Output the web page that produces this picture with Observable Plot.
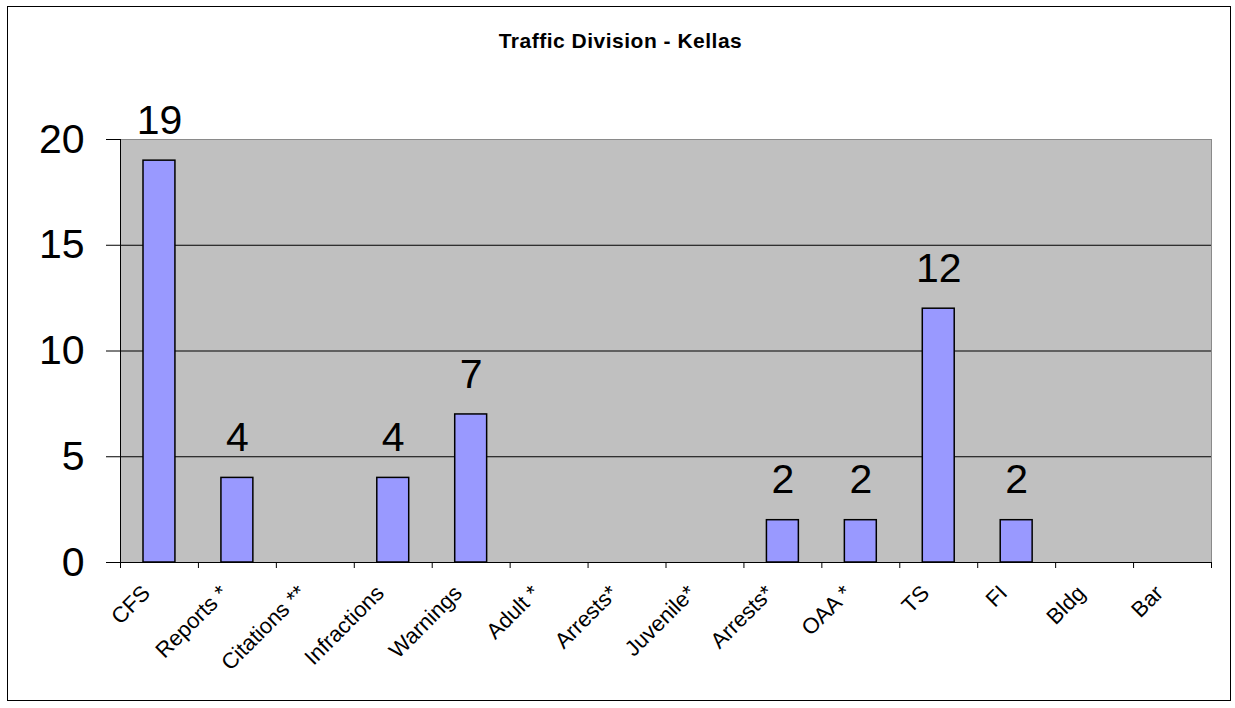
<!DOCTYPE html>
<html><head><meta charset="utf-8">
<script src="https://cdn.jsdelivr.net/npm/d3@7"></script>
<script src="https://cdn.jsdelivr.net/npm/@observablehq/plot@0.6"></script>
<style>
body{margin:0;background:#fff;font-family:"Liberation Sans",Arial,sans-serif;}
#wrap{position:relative;width:1235px;height:708px;}
#border{position:absolute;left:7px;top:6px;width:1224px;height:695px;border:1px solid #000;box-sizing:border-box;pointer-events:none;}
#title{position:absolute;left:0;width:1241px;top:30px;line-height:21px;text-align:center;font-weight:bold;font-size:21px;letter-spacing:0.5px;color:#000;}
#chart{position:absolute;left:0;top:0;}
</style></head>
<body>
<div id="wrap">
  <div id="chart"></div>
  <div id="title">Traffic Division - Kellas</div>
  <div id="border"></div>
</div>
<script>
const categories = ["CFS","Reports *","Citations **","Infractions","Warnings","Adult *","Arrests*","Juvenile*","Arrests*","OAA *","TS","FI","Bldg","Bar"];
const values = [19,4,null,4,7,null,null,null,2,2,12,2,null,null];
const yTicks = [0,5,10,15,20];
const gridTicks = [5,10,15];

const idx = d3.range(categories.length);
const data = idx.map(i => ({i, cat: categories[i], v: values[i]}));
const W = 1235, H = 708, ML = 120, MR = 24, MT = 139, MB = 146;
const bw = (W - ML - MR) / categories.length;
const font = '"Liberation Sans", Arial, sans-serif';

const chart = Plot.plot({
  width: W, height: H,
  marginLeft: ML, marginRight: MR, marginTop: MT, marginBottom: MB,
  style: {fontFamily: font, background: "transparent", color: "#000", overflow: "visible"},
  x: {type: "band", domain: idx, padding: 0, round: false},
  y: {domain: [0, 20]},
  marks: [
    Plot.frame({fill: "#c0c0c0", stroke: "#8a8a8a"}),
    Plot.ruleY(gridTicks, {stroke: "#000", strokeWidth: 1}),
    Plot.barY(data.filter(d => d.v != null), {x: "i", y: "v", fill: "#9999ff", stroke: "#000", strokeWidth: 1.5, insetLeft: 23, insetRight: 23}),
    Plot.ruleY([0], {stroke: "#000", strokeWidth: 1}),
    Plot.ruleX([idx[0]], {x: d => d, dx: -bw / 2, stroke: "#000", strokeWidth: 1, insetBottom: -1}),
    Plot.ruleX(idx, {x: d => d, y1: 0, y2: 0, dx: -bw / 2, insetBottom: -6, stroke: "#000"}),
    Plot.ruleX([idx[idx.length - 1]], {x: d => d, y1: 0, y2: 0, dx: bw / 2, insetBottom: -6, stroke: "#000"}),
    Plot.axisY({ticks: yTicks, tickSize: 14, tickPadding: 22, fontSize: 41, tickFormat: d => String(d), label: null}),
    Plot.axisX({tickSize: 0, tickRotate: -45, tickPadding: 27, dx: -13, fontSize: 22, tickFormat: i => categories[i], label: null}),
    Plot.text(data.filter(d => d.v != null), {x: "i", y: "v", text: d => String(d.v), dy: -40, fontSize: 41, lineAnchor: "middle"})
  ]
});
document.getElementById("chart").appendChild(chart);
</script>
</body></html>
